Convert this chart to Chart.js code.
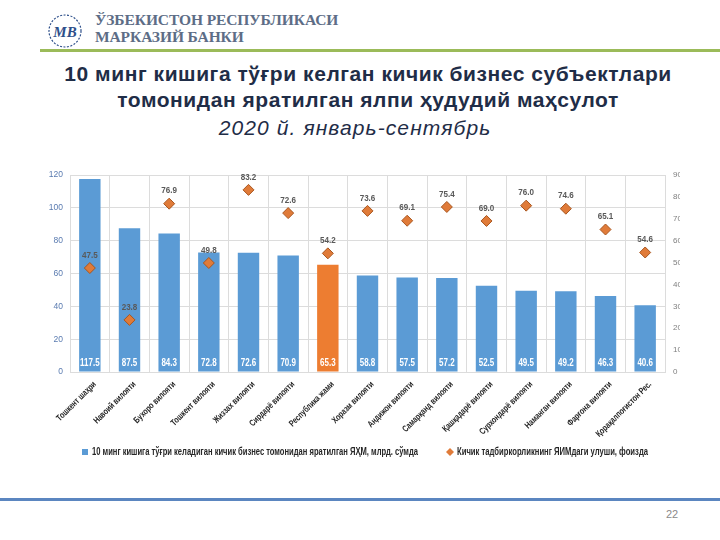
<!DOCTYPE html>
<html><head><meta charset="utf-8">
<script src="https://cdn.jsdelivr.net/npm/chart.js@4.4.0/dist/chart.umd.min.js"></script>
<style>
html,body{margin:0;padding:0;background:#fff;width:720px;height:540px;overflow:hidden;position:relative;font-family:"Liberation Sans",Arial,sans-serif;}
#hdr1{position:absolute;left:95px;top:11px;font:bold 15.5px "Liberation Serif","Times New Roman",serif;color:#5d6d86;line-height:17px;letter-spacing:-0.1px;}
#greenline{position:absolute;left:40px;top:49px;width:680px;height:3px;background:#9bbb59;}
#title{position:absolute;left:0;top:61px;width:736px;text-align:center;font:bold 21px "Liberation Sans",Arial,sans-serif;color:#1f2d47;line-height:26px;letter-spacing:0.55px;}
#sub{position:absolute;left:0;top:116px;width:710px;text-align:center;font:italic 21px "Liberation Sans",Arial,sans-serif;color:#1f2d47;letter-spacing:1.1px;}
#blueline{position:absolute;left:0;top:498px;width:720px;height:3px;background:#5b86c0;}
#page{position:absolute;left:666px;top:508px;font:11px "Liberation Sans",Arial,sans-serif;color:#8a8a8a;}
#logo{position:absolute;left:46px;top:12px;}
#wrap{position:absolute;left:0;top:160px;width:720px;height:310px;}
</style></head>
<body>
<svg id="logo" width="38" height="38" viewBox="0 0 38 38">
<circle cx="19" cy="19" r="16" fill="none" stroke="#2d4f8a" stroke-width="1.2" stroke-dasharray="2 1.5"/>
<text x="19" y="25" text-anchor="middle" font-family="Liberation Serif" font-style="italic" font-weight="bold" font-size="15" fill="#2d4f8a">MB</text>
</svg>
<div id="hdr1">ЎЗБЕКИСТОН РЕСПУБЛИКАСИ<br>МАРКАЗИЙ БАНКИ</div>
<div id="greenline"></div>
<div id="title">10 минг кишига тўғри келган кичик бизнес субъектлари<br>томонидан яратилган ялпи ҳудудий маҳсулот</div>
<div id="sub">2020 й. январь-сентябрь</div>
<div id="wrap"><canvas id="c" width="720" height="310"></canvas></div>
<div id="blueline"></div>
<div id="page">22</div>
<script>
const categories = ["Тошкент шаҳри","Навоий вилояти","Бухоро вилояти","Тошкент вилояти","Жиззах вилояти","Сирдарё вилояти","Республика жами","Хоразм вилояти","Андижон вилояти","Самарқанд вилояти","Қашқадарё вилояти","Сурхондарё вилояти","Наманган вилояти","Фарғона вилояти","Қорақалпоғистон Рес."];
const grpPerCapita = [117.5,87.5,84.3,72.8,72.6,70.9,65.3,58.8,57.5,57.2,52.5,49.5,49.2,46.3,40.6];
const smallBizShare = [47.5,23.8,76.9,49.8,83.2,72.6,54.2,73.6,69.1,75.4,69.0,76.0,74.6,65.1,54.6];
const leftTicks = [0,20,40,60,80,100,120];
const rightTicks = [0,10,20,30,40,50,60,70,80,90];
const seriesNames = ["10 минг кишига тўғри келадиган кичик бизнес томонидан яратилган ЯҲМ, млрд. сўмда","Кичик тадбиркорликнинг ЯИМдаги улуши, фоизда"];
const highlightIndex = categories.indexOf("Республика жами");

const BLUE = "#5b9bd5", ORANGE = "#ed7d31", DIAMOND = "#e07b39";
const FONT = '"Liberation Sans",Arial,sans-serif';

function narrowText(ctx, txt, x, y, sx) {
  ctx.save();
  ctx.translate(x, y);
  ctx.scale(sx, 1);
  ctx.fillText(txt, 0, 0);
  ctx.restore();
}

const labelPlugin = {
  id: 'vals',
  afterDatasetsDraw(chart) {
    const ctx = chart.ctx;
    ctx.save();
    const bm = chart.getDatasetMeta(0);
    ctx.textAlign = 'center';
    ctx.textBaseline = 'middle';
    ctx.font = 'bold 10px ' + FONT;
    ctx.fillStyle = '#ffffff';
    const yb = chart.scales.y.getPixelForValue(0);
    bm.data.forEach((el, i) => narrowText(ctx, grpPerCapita[i].toFixed(1), el.x, yb - 9, 0.8));
    const pm = chart.getDatasetMeta(1);
    ctx.font = 'bold 9.5px ' + FONT;
    ctx.fillStyle = '#595959';
    pm.data.forEach((el, i) => narrowText(ctx, smallBizShare[i].toFixed(1), el.x, el.y - 13, 0.85));

    // rotated category labels
    const xs = chart.scales.x;
    ctx.font = 'bold 9px ' + FONT;
    ctx.fillStyle = '#262626';
    ctx.textAlign = 'right';
    categories.forEach((c, i) => {
      const x = xs.getPixelForValue(i);
      ctx.save();
      ctx.translate(x + 5, yb + 11);
      ctx.rotate(-Math.PI / 4);
      ctx.scale(0.76, 1);
      ctx.fillText(c, 0, 0);
      ctx.restore();
    });

    // legend
    const ly = 292;
    ctx.font = 'bold 10.5px ' + FONT;
    ctx.textAlign = 'left';
    ctx.fillStyle = BLUE;
    ctx.fillRect(82, ly - 3, 6, 6);
    ctx.fillStyle = '#262626';
    narrowText(ctx, seriesNames[0], 92, ly, 326 / ctx.measureText(seriesNames[0]).width);
    ctx.fillStyle = DIAMOND;
    ctx.beginPath();
    ctx.moveTo(450, ly - 4); ctx.lineTo(454, ly); ctx.lineTo(450, ly + 4); ctx.lineTo(446, ly);
    ctx.closePath(); ctx.fill();
    ctx.fillStyle = '#262626';
    narrowText(ctx, seriesNames[1], 457, ly, 191 / ctx.measureText(seriesNames[1]).width);
    ctx.restore();
  }
};

new Chart(document.getElementById('c'), {
  data: {
    labels: categories,
    datasets: [
      {
        type: 'bar', label: seriesNames[0], data: grpPerCapita, yAxisID: 'y',
        backgroundColor: grpPerCapita.map((v, i) => i === highlightIndex ? ORANGE : BLUE),
        barPercentage: 0.54, categoryPercentage: 1.0, order: 2
      },
      {
        type: 'line', label: seriesNames[1], data: smallBizShare, yAxisID: 'y2',
        showLine: false, pointStyle: 'rectRot', pointRadius: 5.5, pointHoverRadius: 5.5,
        backgroundColor: DIAMOND, borderColor: '#a8561f', borderWidth: 1, order: 1
      }
    ]
  },
  options: {
    responsive: false, animation: false,
    layout: { padding: { left: 40, right: 40, top: 15, bottom: 38 } },
    plugins: { tooltip: { enabled: false }, legend: { display: false } },
    scales: {
      x: {
        grid: { color: '#dcdcdc', drawTicks: false, offset: true },
        border: { color: '#dcdcdc' },
        ticks: { display: false },
        afterFit(s) { s.height = 60; }
      },
      y: {
        position: 'left', min: 0, max: 120,
        afterBuildTicks(s) { s.ticks = leftTicks.map(v => ({ value: v })); },
        grid: { color: '#dcdcdc', drawTicks: false },
        border: { color: '#dcdcdc' },
        ticks: { color: '#5a7bb0', padding: 7, font: { family: FONT, size: 8.5 } },
        afterFit(s) { s.width = 30; }
      },
      y2: {
        position: 'right', min: 0, max: 90,
        afterBuildTicks(s) { s.ticks = rightTicks.map(v => ({ value: v })); },
        grid: { display: false, drawTicks: false },
        border: { color: '#dcdcdc' },
        ticks: { color: '#7f7f7f', padding: 8, font: { family: FONT, size: 8 } },
        afterFit(s) { s.width = 15; }
      }
    }
  },
  plugins: [labelPlugin]
});
</script>
</body></html>
